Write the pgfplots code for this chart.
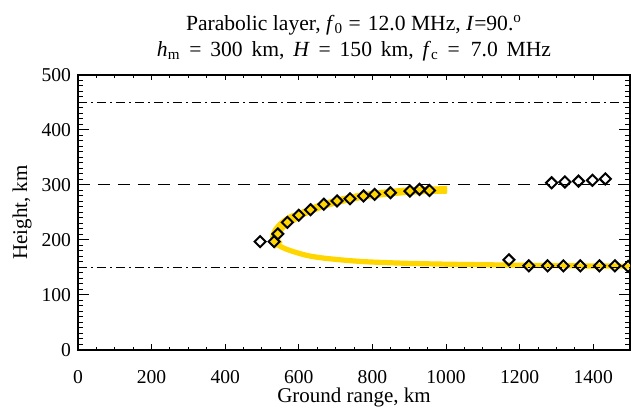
\documentclass[border=0pt]{standalone}
\usepackage{fontspec}
\setmainfont{Liberation Serif}
\usepackage{pgfplots}
\pgfplotsset{compat=1.18}
\definecolor{band}{RGB}{255,214,0}

\begin{document}
\begin{tikzpicture}
\begin{axis}[
  scale only axis, width=276bp, height=137.5bp,
  xmin=0, xmax=1500, ymin=0, ymax=500,
  xtick={0,200,...,1400}, ytick={0,100,...,500},
  minor x tick num=3, minor y tick num=9,
  tick align=inside,
  xtick style={/pgfplots/major tick length=2.75bp,/pgfplots/minor tick length=1.4bp, line width=0.5bp, black},
  ytick style={/pgfplots/major tick length=5.5bp,/pgfplots/minor tick length=2.75bp, line width=0.5bp, black},
  axis line style={line width=0.6bp},
  /pgf/number format/assume math mode=true,
  /pgf/number format/set thousands separator={},
  tick label style={font=\fontsize{9.8bp}{11bp}\selectfont},
  xticklabel style={yshift=-6.5bp},
  xlabel={Ground range, km}, ylabel={Height, km},
  label style={font=\fontsize{10.5bp}{12bp}\selectfont},
  xlabel style={at={(axis description cs:0.5,-0.1745)}, anchor=center},
  ylabel style={at={(axis description cs:-0.1014,0.5)}, anchor=center},
  title={Parabolic layer, \textit{f}\textsubscript{0} = \hspace{0.08em}12.0 MHz, \textit{I}=90.\textsuperscript{o}\\
         {\spaceskip=4.4bp plus 1bp minus 1bp\relax \textit{h}\textsubscript{m} = 300 km, \textit{H} = 150 km, \textit{f}\textsubscript{c} = \hspace{0.1em}7.0 MHz}},
  title style={at={(axis description cs:0.5,1.0909)}, anchor=center, align=center,
     font=\fontsize{10.8bp}{13.3bp}\selectfont},
]
% yellow ray band
\addplot[band, line width=2.6bp, smooth, line join=round] coordinates {
 (1003,291) (960,290.5) (900,289) (848,286) (800,282.5) (757,278) (712,271.5)
 (665,263) (620,251) (590,242) (571,235) (555,227) (543,218) (537,210) (535,204)
 (538,197) (546,190) (560,185) (580,180) (621,172) (662,167.5) (712,164)
 (757,161.5) (802,159.8) (893,157.6) (1019,155.8) (1200,154.2) (1350,153) (1510,152.4)};
\addplot[band, line width=3.8bp, smooth, line join=round] coordinates {
 (1003,291) (960,290.5) (900,289) (848,286) (800,282.5) (757,278) (712,271.5)
 (665,263) (620,251) (590,242) (571,235) (555,227) (543,218) (537,210) (535,204)};
\addplot[band, line width=4.8bp, smooth, line join=round] coordinates {
 (590,242) (571,235) (555,227) (543,218) (537,210) (535,204) (538,197) (546,190)};
% reference heights
\addplot[black, line width=0.5bp, dash pattern=on 4.5bp off 2.2bp on 0.6bp off 2.2bp] coordinates {(0,150) (1500,150)};
\addplot[black, line width=0.5bp, dash pattern=on 6bp off 4bp] coordinates {(0,300) (1500,300)};
\addplot[black, line width=0.5bp, dash pattern=on 4.5bp off 2.2bp on 0.6bp off 2.2bp] coordinates {(0,450) (1500,450)};
% observed points
\addplot[only marks, mark=square, mark size=1.95bp, mark options={rotate=45, line width=1bp, black}] coordinates {
 (495,197) (533,197) (543,211) (569,232) (600,245) (632,255) (668,265) (704,271)
 (739,275) (776,280) (806,283) (849,286) (902,289) (928,292) (955,290)};
\addplot[only marks, mark=square, mark size=1.95bp, mark options={rotate=45, line width=1bp, black}] coordinates {
 (1287,304) (1323,305.5) (1360,307) (1398,308.5) (1433,311)
 (1171,164) (1225,153) (1276,153) (1319,153) (1365,153) (1417,153) (1459,153) (1495,152)};
\end{axis}
\pgfresetboundingbox
\useasboundingbox ([shift={(-39bp,-33bp)}]current axis.south west) rectangle ([shift={(0.5bp,37.5bp)}]current axis.north east);
\end{tikzpicture}
\end{document}
